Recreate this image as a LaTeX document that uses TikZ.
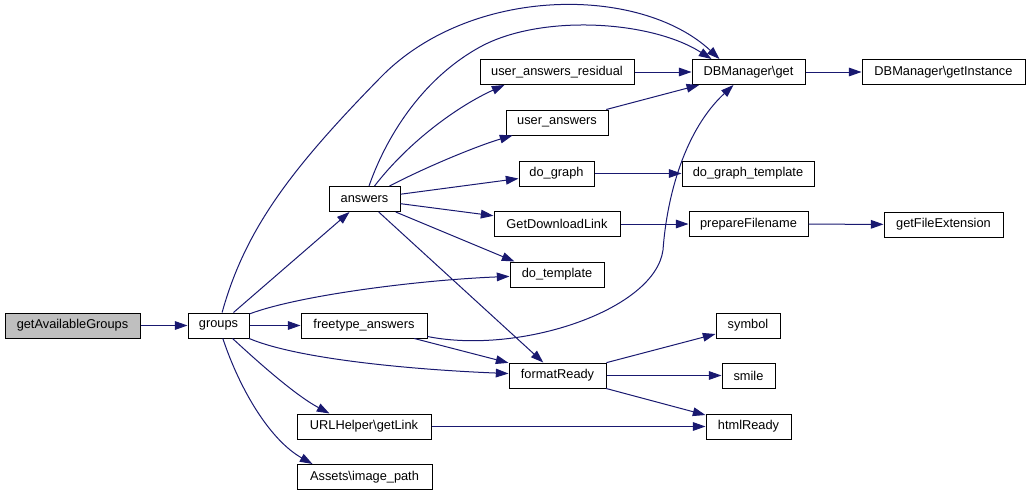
\documentclass[tikz,border=0pt]{standalone}
\usepackage{fontspec}
\setmainfont{Liberation Sans}
\usetikzlibrary{arrows.meta,calc}
\definecolor{edgeblue}{RGB}{25,25,112}
\definecolor{rootgray}{RGB}{191,191,191}
\begin{document}
\begin{tikzpicture}[x=0.75pt,y=-0.75pt,
  fn/.style={draw=black, line width=0.75pt, minimum height=18.75pt, inner sep=0pt,
    font=\fontsize{9.6}{11}\selectfont, fill=white},
  bw/.style={minimum width={#1*0.75pt}},
  root/.style={fill=rootgray},
  call/.style={draw=edgeblue, line width=0.75pt,
    -{Triangle[length=9.5pt,width=6.5pt]}},
]
\useasboundingbox (0,0) rectangle (1031,496);

% nodes
\node[fn,root,bw=135] (gag) at (72.5,325.5) {getAvailableGroups};
\node[fn,bw=61] (groups) at (218.5,325.5) {groups};
\node[fn,bw=71] (answers) at (364.5,199) {answers};
\node[fn,bw=126] (freetype) at (364,325.5) {freetype\_answers};
\node[fn,bw=134] (url) at (364,426.5) {URLHelper\textbackslash getLink};
\node[fn,bw=135] (assets) at (364.5,477) {Assets\textbackslash image\_path};
\node[fn,bw=154] (uar) at (557,72) {user\_answers\_residual};
\node[fn,bw=102] (uans) at (557,122.5) {user\_answers};
\node[fn,bw=75] (dograph) at (556.5,173.5) {do\_graph};
\node[fn,bw=126] (gdl) at (557,224) {GetDownloadLink};
\node[fn,bw=94] (dotpl) at (557,274.5) {do\_template};
\node[fn,bw=97] (fr) at (557.5,375.5) {formatReady};
\node[fn,bw=113] (dbget) at (748.5,72) {DBManager\textbackslash get};
\node[fn,bw=132] (dgt) at (748,173.5) {do\_graph\_template};
\node[fn,bw=119] (pf) at (748.5,224) {prepareFilename};
\node[fn,bw=163] (dbgi) at (943.5,72) {DBManager\textbackslash getInstance};
\node[fn,bw=119] (gfe) at (943.5,224.5) {getFileExtension};
\node[fn,bw=64] (symbol) at (748,325.5) {symbol};
\node[fn,bw=53] (smile) at (748.5,375.5) {smile};
\node[fn,bw=85] (html) at (748.5,426.5) {htmlReady};

% edges
\draw[call] (gag) -- (groups);
\draw[call] (groups) -- (answers);
\draw[call] (groups) .. controls (245,230) and (290,170) .. (380,78)
   .. controls (470,-15) and (640,-15) .. ($(dbget.north west)+(28,0)$);
\draw[call] (groups) .. controls (300,295) and (420,280) .. (dotpl);
\draw[call] (groups) -- (freetype);
\draw[call] (groups) .. controls (300,360) and (420,370) .. (fr);
\draw[call] (groups) .. controls (258,362) and (295,395) .. ($(url.north west)+(33,0)$);
\draw[call] (groups) .. controls (240,390) and (270,440) .. ($(assets.north west)+(16,0)$);

\draw[call] (answers) .. controls (385,140) and (420,80) .. (480,47)
   .. controls (540,14) and (650,20) .. ($(dbget.north west)+(20,0)$);
\draw[call] (answers) .. controls (410,140) and (460,105) .. ($(uar.south west)+(25,0)$);
\draw[call] (answers) .. controls (430,165) and (480,145) .. ($(uans.south west)+(7,0)$);
\draw[call] (answers) -- (dograph);
\draw[call] (answers) -- (gdl);
\draw[call] (answers) -- ($(dotpl.north west)+(5,0)$);
\draw[call] (answers) -- (fr);

\draw[call] (uar) -- (dbget);
\draw[call] (uans) -- (dbget);
\draw[call] ($(freetype.east)+(0,11)$) .. controls (520,355) and (655,310) .. (663,250)
   .. controls (667,195) and (685,130) .. ($(dbget.south)+(-15,0)$);
\draw[call] (freetype) -- (fr);

\draw[call] (dograph) -- (dgt);
\draw[call] (gdl) -- (pf);
\draw[call] (pf) -- (gfe);
\draw[call] (dbget) -- (dbgi);

\draw[call] (fr) -- (symbol);
\draw[call] (fr) -- (smile);
\draw[call] (fr) -- (html);
\draw[call] (url) -- (html);
\end{tikzpicture}
\end{document}
